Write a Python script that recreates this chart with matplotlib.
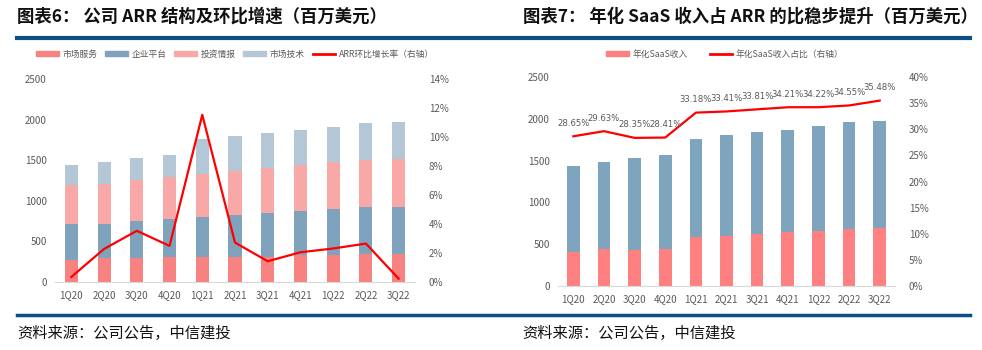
import numpy as np
import matplotlib.pyplot as plt
from matplotlib.patches import Patch
from matplotlib.lines import Line2D

plt.rcParams['font.family'] = ['Noto Sans CJK SC', 'DejaVu Sans']

quarters = ['1Q20', '2Q20', '3Q20', '4Q20', '1Q21', '2Q21',
            '3Q21', '4Q21', '1Q22', '2Q22', '3Q22']

# 图表6: ARR 结构（百万美元）
market_services = [276, 292, 301, 309, 309, 313, 312, 338, 330, 342, 342]
enterprise_platform = [436, 425, 449, 461, 490, 515, 536, 535, 572, 585, 585]
investment_intel = [478, 490, 502, 523, 535, 539, 552, 564, 577, 580, 585]
market_tech = [247, 272, 280, 272, 421, 433, 429, 429, 424, 453, 453]
arr_qoq = [0.35, 2.28, 3.53, 2.49, 11.53, 2.72, 1.43, 2.05, 2.31, 2.65, 0.23]

# 图表7: 年化 SaaS 收入与 ARR
arr_total = [1440, 1480, 1535, 1570, 1760, 1805, 1840, 1872, 1912, 1965, 1970]
saas_revenue = [412, 438, 435, 445, 583, 603, 622, 640, 654, 679, 699]
saas_share = [28.65, 29.63, 28.35, 28.41, 33.18, 33.41, 33.81, 34.21, 34.22, 34.55, 35.48]

W, H = 982, 350
fig = plt.figure(figsize=(W / 100, H / 100), dpi=100)

def px_axes(x0, y_top, x1, y_bot):
    return fig.add_axes([x0 / W, 1 - y_bot / H, (x1 - x0) / W, (y_bot - y_top) / H])

tick_color = '#595959'
navy = '#0B4F86'

# header / footer
fig.text(17 / W, 1 - 17 / H, '图表6： 公司 ARR 结构及环比增速（百万美元）',
         fontsize=12.5, fontweight='bold', va='center', ha='left', color='#111111')
fig.text(523 / W, 1 - 17 / H, '图表7： 年化 SaaS 收入占 ARR 的比稳步提升（百万美元）',
         fontsize=12.5, fontweight='bold', va='center', ha='left', color='#111111')
fig.add_artist(Line2D([17 / W, 970 / W], [1 - 38 / H, 1 - 38 / H], color=navy, lw=3))
fig.add_artist(Line2D([17 / W, 970 / W], [1 - 315 / H, 1 - 315 / H], color=navy, lw=2.5))
fig.text(17 / W, 1 - 333 / H, '资料来源：公司公告，中信建投', fontsize=11,
         style='italic', va='center', ha='left', color='#111111')
fig.text(522 / W, 1 - 333 / H, '资料来源：公司公告，中信建投', fontsize=11,
         style='italic', va='center', ha='left', color='#111111')

x = np.arange(len(quarters))

def style_axes(ax):
    for s in ['top', 'right', 'left']:
        ax.spines[s].set_visible(False)
    ax.spines['bottom'].set_color('#D9D9D9')
    ax.tick_params(length=0, labelsize=7, colors=tick_color, pad=6)
    ax.set_xticks(x)
    ax.set_xticklabels(quarters)
    ax.set_xlim(-0.5, len(quarters) - 0.5)

# ---------------- 左图 ----------------
ax1 = px_axes(55, 79, 415, 282)
c_ms, c_ep, c_ii, c_mt = '#F7827F', '#7FA3BC', '#F9A8A8', '#B3C7D7'
bw = 0.4
b = np.zeros(len(x))
for vals, col in [(market_services, c_ms), (enterprise_platform, c_ep),
                  (investment_intel, c_ii), (market_tech, c_mt)]:
    ax1.bar(x, vals, bw, bottom=b, color=col, edgecolor='none')
    b += np.array(vals)
ax1.set_ylim(0, 2500)
ax1.set_yticks(range(0, 2501, 500))
style_axes(ax1)
ax1r = ax1.twinx()
ax1r.plot(x, arr_qoq, color='#FF0000', lw=1.6)
ax1r.set_ylim(0, 14)
ax1r.set_yticks(range(0, 15, 2))
ax1r.set_yticklabels([f'{v}%' for v in range(0, 15, 2)])
for s in ['top', 'right', 'left', 'bottom']:
    ax1r.spines[s].set_visible(False)
ax1r.tick_params(length=0, labelsize=7, colors=tick_color, pad=10)

h1 = [Patch(color=c_ms), Patch(color=c_ep), Patch(color=c_ii), Patch(color=c_mt),
      Line2D([], [], color='#FF0000', lw=2)]
l1 = ['市场服务', '企业平台', '投资情报', '市场技术', 'ARR环比增长率（右轴）']
fig.legend(h1, l1, loc='center', bbox_to_anchor=(235 / W, 1 - 54 / H), ncol=5,
           frameon=False, fontsize=6.3, labelcolor=tick_color, handlelength=2.6,
           handleheight=0.5, columnspacing=0.9, handletextpad=0.4)

# ---------------- 右图 ----------------
ax2 = px_axes(558, 77, 895, 286)
c_saas, c_arr = '#FF8080', '#7FA4BE'
ax2.bar(x, arr_total, 0.41, color=c_arr, edgecolor='none')
ax2.bar(x, saas_revenue, 0.41, color=c_saas, edgecolor='none')
ax2.set_ylim(0, 2500)
ax2.set_yticks(range(0, 2501, 500))
style_axes(ax2)
ax2r = ax2.twinx()
ax2r.plot(x, saas_share, color='#FF0000', lw=1.6)
ax2r.set_ylim(0, 40)
ax2r.set_yticks(range(0, 41, 5))
ax2r.set_yticklabels([f'{v}%' for v in range(0, 41, 5)])
for s in ['top', 'right', 'left', 'bottom']:
    ax2r.spines[s].set_visible(False)
ax2r.tick_params(length=0, labelsize=7, colors=tick_color, pad=10)
for xi, v in zip(x, saas_share):
    ax2r.annotate(f'{v:.2f}%', (xi, v), xytext=(0, 13), textcoords='offset pixels',
                  ha='center', va='center', fontsize=6.1, color=tick_color,
                  family='DejaVu Sans')

h2 = [Patch(color=c_saas), Line2D([], [], color='#FF0000', lw=2)]
l2 = ['年化SaaS收入', '年化SaaS收入占比（右轴）']
fig.legend(h2, l2, loc='center', bbox_to_anchor=(725 / W, 1 - 54 / H), ncol=2,
           frameon=False, fontsize=6.3, labelcolor=tick_color, handlelength=2.6,
           handleheight=0.5, columnspacing=2.5, handletextpad=0.4)

fig.savefig('out.png', dpi=100)
